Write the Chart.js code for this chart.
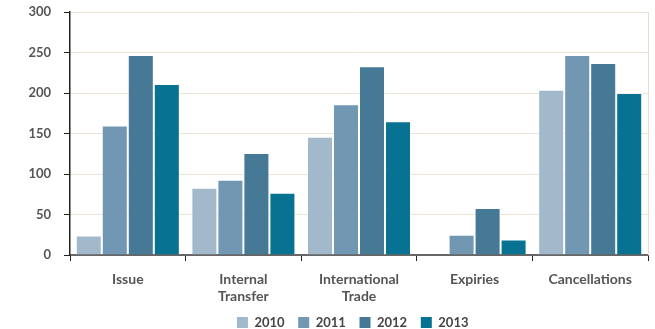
<!DOCTYPE html>
<html>
<head>
<meta charset="utf-8">
<script src="https://cdn.jsdelivr.net/npm/chart.js@4.4.1/dist/chart.umd.min.js"></script>
<style>
  html, body { margin: 0; padding: 0; background: #fff; }
  #wrap { width: 655px; height: 329px; }
</style>
</head>
<body>
<div id="wrap"><canvas id="chart" width="655" height="329"></canvas></div>
<script>
// Categories and yearly series
const categories = [['Issue'], ['Internal', 'Transfer'], ['International', 'Trade'], ['Expiries'], ['Cancellations']];
const years = ['2010', '2011', '2012', '2013'];
const values2010 = [24, 83, 146, 0, 204];
const values2011 = [160, 93, 186, 25, 247];
const values2012 = [247, 126, 233, 58, 237];
const values2013 = [211, 77, 165, 19, 200];
const yTicks = [0, 50, 100, 150, 200, 250, 300];
const colors = ['#a2b8cb', '#7197b2', '#467996', '#077292'];

const series = [values2010, values2011, values2012, values2013];

// thin beige frame on the right of the plot
const rightEdge = {
    id: 'rightEdge',
    afterDraw(chart) {
        const a = chart.chartArea;
        const ctx = chart.ctx;
        ctx.save();
        ctx.strokeStyle = '#e8dfcf';
        ctx.lineWidth = 1;
        ctx.beginPath();
        ctx.moveTo(a.right + 0.5, a.top);
        ctx.lineTo(a.right + 0.5, a.bottom);
        ctx.stroke();
        ctx.restore();
    }
};

new Chart(document.getElementById('chart'), {
    type: 'bar',
    data: {
        labels: categories,
        datasets: years.map((y, i) => ({
            label: y,
            data: series[i],
            backgroundColor: colors[i],
            borderColor: 'rgba(255,255,255,0.55)',
            borderWidth: 1,
            categoryPercentage: 0.9,
            barPercentage: 1.0
        }))
    },
    options: {
        responsive: false,
        animation: false,
        layout: { padding: { top: 12, right: 7, left: 0, bottom: -10 } },
        plugins: {
            legend: {
                position: 'bottom',
                fullSize: false,
                labels: {
                    boxWidth: 11,
                    boxHeight: 11,
                    padding: 1,
                    color: '#444',
                    font: { family: 'Lato', size: 13, weight: 'bold' },
                    generateLabels(chart) {
                        const items = Chart.defaults.plugins.legend.labels.generateLabels(chart);
                        items.forEach(it => { it.text = it.text + '    '; it.lineWidth = 0; });
                        return items;
                    }
                }
            },
            tooltip: { enabled: false }
        },
        scales: {
            x: {
                grid: {
                    offset: true,
                    drawOnChartArea: false,
                    tickLength: 6,
                    tickColor: '#222'
                },
                border: { color: '#666', width: 2 },
                ticks: {
                    color: '#555',
                    padding: 10,
                    font: { family: 'Lato', size: 14, weight: 'bold', lineHeight: '17px' },
                    maxRotation: 0
                }
            },
            y: {
                min: 0,
                max: 300,
                afterFit(scale) {
                    scale.width = 70;
                    scale.paddingTop = 0;
                    scale.paddingBottom = 0;
                },
                afterBuildTicks(scale) { scale.ticks = yTicks.map(v => ({ value: v })); },
                grid: {
                    color: '#ece4d4',
                    tickColor: '#222',
                    tickLength: 6
                },
                border: { color: '#222', width: 1.5 },
                ticks: {
                    color: '#555',
                    padding: 13,
                    font: { family: 'Lato', size: 13, weight: 'bold' }
                }
            }
        }
    },
    plugins: [rightEdge]
});
</script>
</body>
</html>
